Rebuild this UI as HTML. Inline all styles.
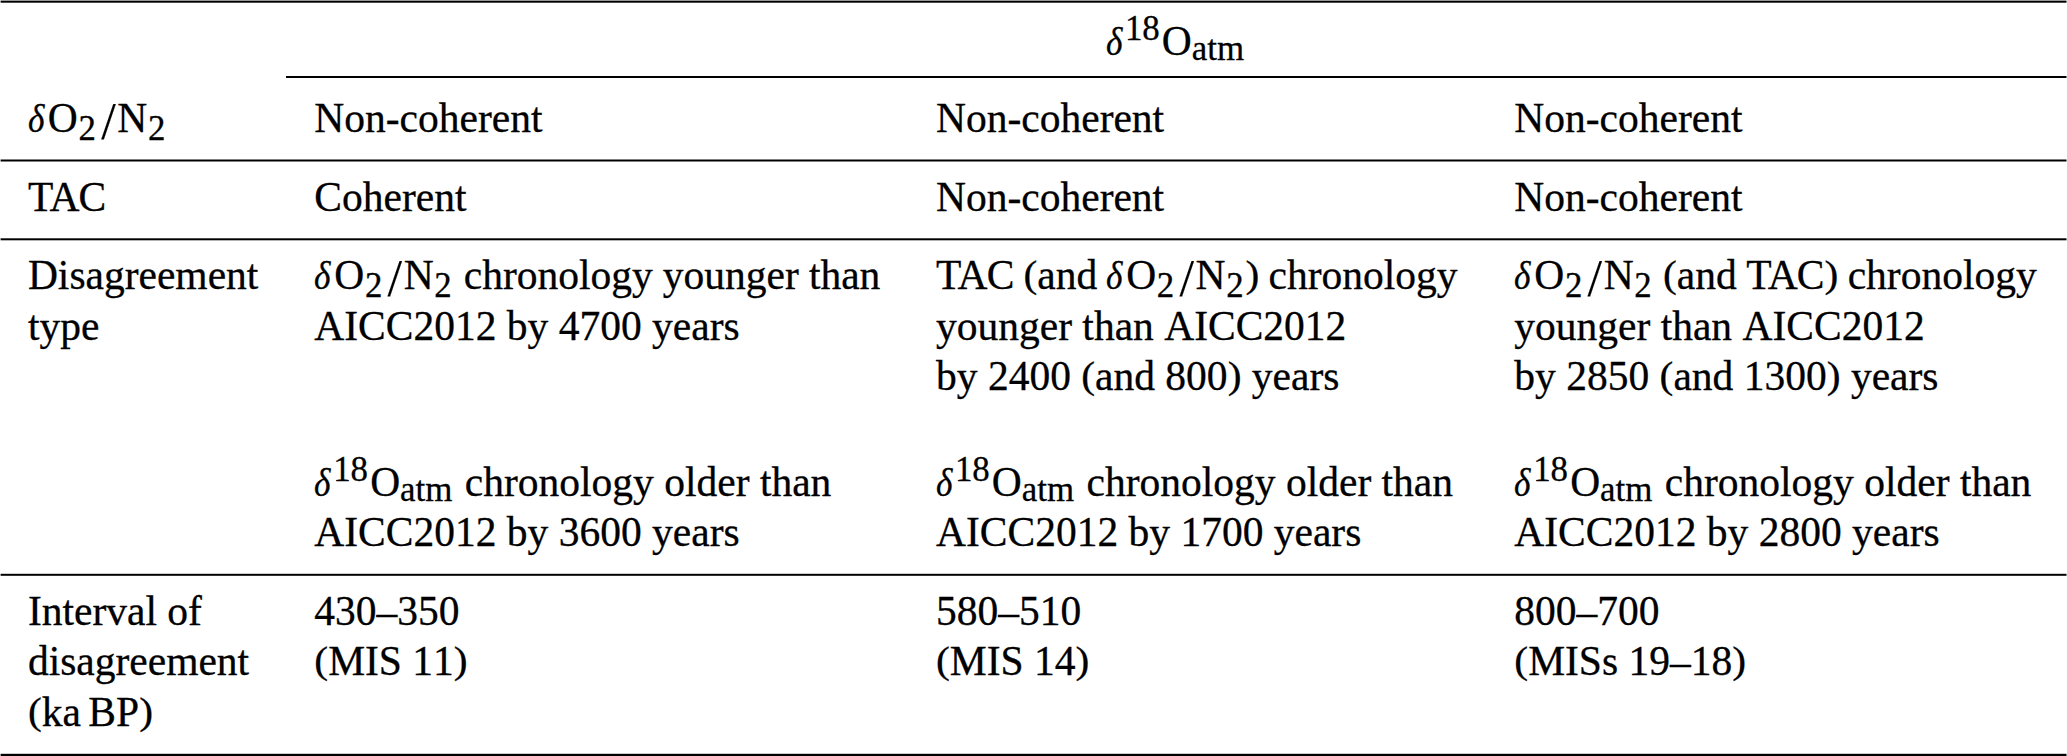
<!DOCTYPE html>
<html><head><meta charset="utf-8"><title>Table</title>
<style>
html,body{margin:0;padding:0;background:#fff;}
body{width:2067px;height:756px;position:relative;overflow:hidden;
 font-family:"Liberation Serif",serif;font-size:41.5px;color:#000;}
.t{position:absolute;white-space:nowrap;line-height:normal;-webkit-text-stroke:0.3px #000;font-kerning:none;}
.ss{margin-right:0.055em;}
.k1{letter-spacing:-0.093em;}.k2{letter-spacing:-0.02em;}.en{position:relative;top:0.025em;}
table,thead,tbody,tr,th,td{display:block;margin:0;padding:0;border:0;font-weight:normal;font-size:inherit;text-align:left;}
.d{font-style:italic;font-size:0.99em;display:inline-block;width:0.485em;line-height:0;}
.d b{font-weight:normal;display:inline-block;transform:scale(0.86,1);transform-origin:0 80%;}
.suba{font-size:0.84em;position:relative;top:0.146em;line-height:0;margin-left:0;margin-right:0.06em;}
.sub{font-size:0.84em;position:relative;top:0.23em;line-height:0;margin-left:0.02em;}
.sup{font-size:0.84em;position:relative;top:-0.433em;line-height:0;margin-left:-0.03em;margin-right:0.06em;}
.sl{display:inline-block;font-size:1.26em;line-height:0;position:relative;top:0.14em;margin:0 0.03em 0 0.1em;-webkit-text-stroke:0.15px #000;}
.p{display:inline-block;transform:scaleY(0.925);transform-origin:50% 18%;}
.thin{display:inline-block;width:0.18em;}
</style></head><body>

<svg width="2067" height="756" style="position:absolute;left:0;top:0">
<rect x="0.6" y="0.6" width="2065.9" height="2.1" fill="#000"/>
<rect x="286" y="76" width="1780.5" height="2" fill="#000"/>
<rect x="0.6" y="159.5" width="2065.9" height="2" fill="#000"/>
<rect x="0.6" y="238.3" width="2065.9" height="2" fill="#000"/>
<rect x="0.6" y="573.8" width="2065.9" height="2" fill="#000"/>
<rect x="0.6" y="753.8" width="2065.9" height="2.2" fill="#000"/>
</svg>
<table>
<thead><tr><th></th><th colspan="3"><span class="t" style="left:1106px;top:17.02px"><i class="d"><b>δ</b></i><span class="sup">18</span>O<span class="suba">atm</span></span></th></tr></thead>
<tbody>
<tr>
<th><span class="t" style="left:27.9px;top:94.02px"><i class="d"><b>δ</b></i>O<span class="sub">2</span><span class="sl">/</span>N<span class="sub ss">2</span></span></th>
<td><span class="t" style="left:314.3px;top:94.02px">Non-coherent</span></td>
<td><span class="t" style="left:936.0px;top:94.02px">Non-coherent</span></td>
<td><span class="t" style="left:1514.3px;top:94.02px">Non-coherent</span></td>
</tr>
<tr>
<th><span class="t" style="left:27.9px;top:173.02px"><span class="k1">T</span><span class="k2">A</span>C</span></th>
<td><span class="t" style="left:314.3px;top:173.02px">Coherent</span></td>
<td><span class="t" style="left:936.0px;top:173.02px">Non-coherent</span></td>
<td><span class="t" style="left:1514.3px;top:173.02px">Non-coherent</span></td>
</tr>
<tr>
<th><span class="t" style="left:27.9px;top:251.02px">Disagreement</span>
<span class="t" style="left:27.9px;top:302.02px">type</span></th>
<td><span class="t" style="left:314.3px;top:251.02px;word-spacing:-0.3px"><i class="d"><b>δ</b></i>O<span class="sub">2</span><span class="sl">/</span>N<span class="sub ss">2</span> chronology younger than</span>
<span class="t" style="left:314.3px;top:302.02px">AICC2012 by 4700 years</span>
<span class="t" style="left:314.3px;top:458.02px"><i class="d"><b>δ</b></i><span class="sup">18</span>O<span class="suba">atm</span> chronology older than</span>
<span class="t" style="left:314.3px;top:508.02px">AICC2012 by 3600 years</span></td>
<td><span class="t" style="left:936.0px;top:251.02px;word-spacing:-1.3px"><span class="k1">T</span><span class="k2">A</span>C <span class="p">(</span>and <i class="d"><b>δ</b></i>O<span class="sub">2</span><span class="sl">/</span>N<span class="sub ss">2</span><span class="p">)</span> chronology</span>
<span class="t" style="left:936.0px;top:302.02px">younger than AICC2012</span>
<span class="t" style="left:936.0px;top:352.02px">by 2400 <span class="p">(</span>and 800<span class="p">)</span> years</span>
<span class="t" style="left:936.0px;top:458.02px"><i class="d"><b>δ</b></i><span class="sup">18</span>O<span class="suba">atm</span> chronology older than</span>
<span class="t" style="left:936.0px;top:508.02px">AICC2012 by 1700 years</span></td>
<td><span class="t" style="left:1514.3px;top:251.02px;word-spacing:-1.0px"><i class="d"><b>δ</b></i>O<span class="sub">2</span><span class="sl">/</span>N<span class="sub ss">2</span> <span class="p">(</span>and <span class="k1">T</span><span class="k2">A</span>C<span class="p">)</span> chronology</span>
<span class="t" style="left:1514.3px;top:302.02px">younger than AICC2012</span>
<span class="t" style="left:1514.3px;top:352.02px">by 2850 <span class="p">(</span>and 1300<span class="p">)</span> years</span>
<span class="t" style="left:1514.3px;top:458.02px"><i class="d"><b>δ</b></i><span class="sup">18</span>O<span class="suba">atm</span> chronology older than</span>
<span class="t" style="left:1514.3px;top:508.02px">AICC2012 by 2800 years</span></td>
</tr>
<tr>
<th><span class="t" style="left:27.9px;top:587.02px">Interval of</span>
<span class="t" style="left:27.9px;top:637.02px">disagreement</span>
<span class="t" style="left:27.9px;top:688.02px"><span class="p">(</span>ka<span class="thin"></span>BP<span class="p">)</span></span></th>
<td><span class="t" style="left:314.3px;top:587.02px">430<span class="en">–</span>350</span>
<span class="t" style="left:314.3px;top:637.02px"><span class="p">(</span>MIS 11<span class="p">)</span></span></td>
<td><span class="t" style="left:936.0px;top:587.02px">580<span class="en">–</span>510</span>
<span class="t" style="left:936.0px;top:637.02px"><span class="p">(</span>MIS 14<span class="p">)</span></span></td>
<td><span class="t" style="left:1514.3px;top:587.02px">800<span class="en">–</span>700</span>
<span class="t" style="left:1514.3px;top:637.02px"><span class="p">(</span>MISs 19<span class="en">–</span>18<span class="p">)</span></span></td>
</tr>
</tbody></table>
</body></html>
